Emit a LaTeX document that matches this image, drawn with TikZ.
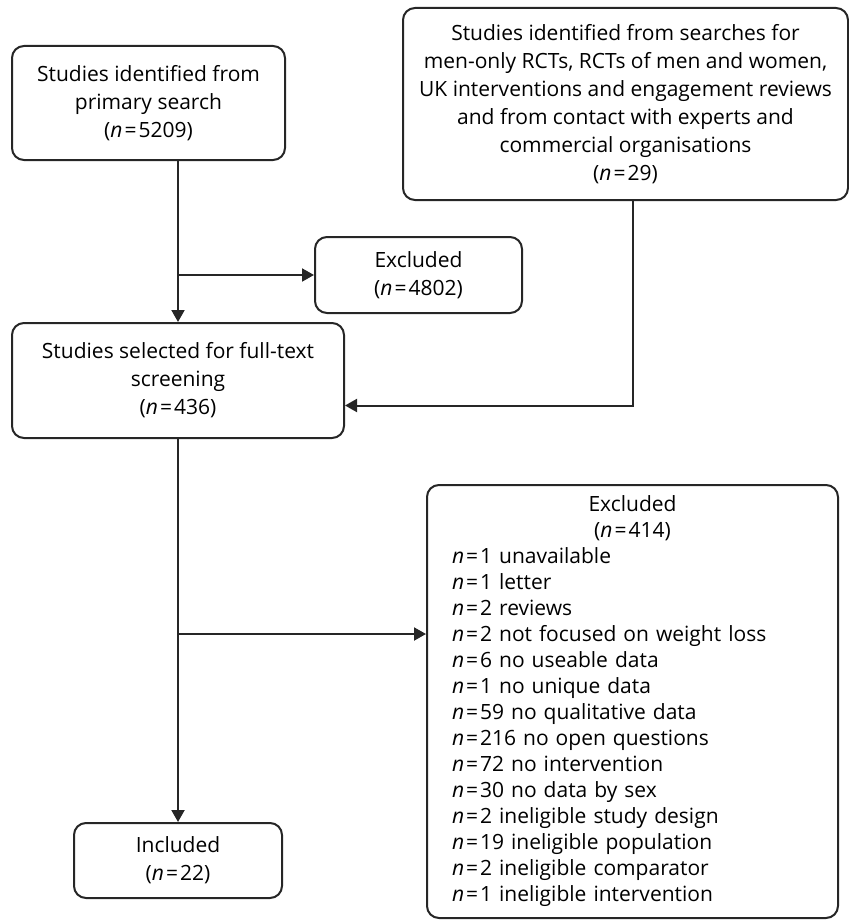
\documentclass[tikz,border=0pt]{standalone}
\usepackage{fontspec}
\setmainfont{Open Sans}
\usepackage{tikz}
\usetikzlibrary{arrows.meta, positioning, calc}
\newcommand{\ncount}{\textit{n}\kern1pt=\kern1pt}
\tikzset{
  stage/.style={rectangle, draw=black!85, line width=1pt, rounded corners=6pt,
    align=center, inner sep=3pt, font=\fontsize{10.5pt}{14pt}\selectfont},
  exlist/.style={stage, align=left, font=\fontsize{10.5pt}{13pt}\selectfont},
  arr/.style={-{Triangle[length=6pt, width=6.5pt]}, line width=1pt, black!85},
}
\begin{document}
\begin{tikzpicture}
\useasboundingbox (0,0) rectangle (424pt,-460pt);

% ── Sources ──
\node[stage, minimum width=136.5pt, minimum height=57pt] (primary) at (74.25pt,-51.5pt)
  {Studies identified from\\primary search\\(\ncount5209)};
\node[stage, minimum width=222.5pt, minimum height=96pt] (other) at (312.75pt,-52pt)
  {Studies identified from searches for\\men-only RCTs, RCTs of men and women,\\UK interventions and engagement reviews\\and from contact with experts and\\commercial organisations\\(\ncount29)};

% ── Screening ──
\node[stage, minimum width=103.5pt, minimum height=38pt] (excl1) at (209.25pt,-137.5pt)
  {Excluded\\(\ncount4802)};
\node[stage, minimum width=166pt, minimum height=57.5pt] (fulltext) at (89pt,-190.25pt)
  {Studies selected for full-text\\screening\\(\ncount436)};

% ── Outcome ──
\node[exlist, text width=180.5pt, inner xsep=12.5pt, minimum height=216.5pt] (excl2) at (316.25pt,-350.75pt)
  {\makebox[\linewidth][c]{Excluded}\\
   \makebox[\linewidth][c]{(\ncount414)}\\
   \ncount1 unavailable\\
   \ncount1 letter\\
   \ncount2 reviews\\
   \ncount2 not focused on weight loss\\
   \ncount6 no useable data\\
   \ncount1 no unique data\\
   \ncount59 no qualitative data\\
   \ncount216 no open questions\\
   \ncount72 no intervention\\
   \ncount30 no data by sex\\
   \ncount2 ineligible study design\\
   \ncount19 ineligible population\\
   \ncount2 ineligible comparator\\
   \ncount1 ineligible intervention};
\node[stage, minimum width=104pt, minimum height=37.5pt] (included) at (89pt,-430.25pt)
  {Included\\(\ncount22)};

% ── Arrows ──
\coordinate (exin) at ([yshift=33.75pt]excl2.west);
\draw[arr] (fulltext.north |- primary.south) -- (fulltext.north);
\draw[arr] (fulltext.north |- excl1.west) -- (excl1.west);
\draw[arr] ([xshift=3.75pt]other.south) |- ([yshift=-12.5pt]fulltext.east);
\draw[arr] (fulltext.south) -- (included.north);
\draw[arr] (fulltext.south |- exin) -- (exin);

\end{tikzpicture}
\end{document}
